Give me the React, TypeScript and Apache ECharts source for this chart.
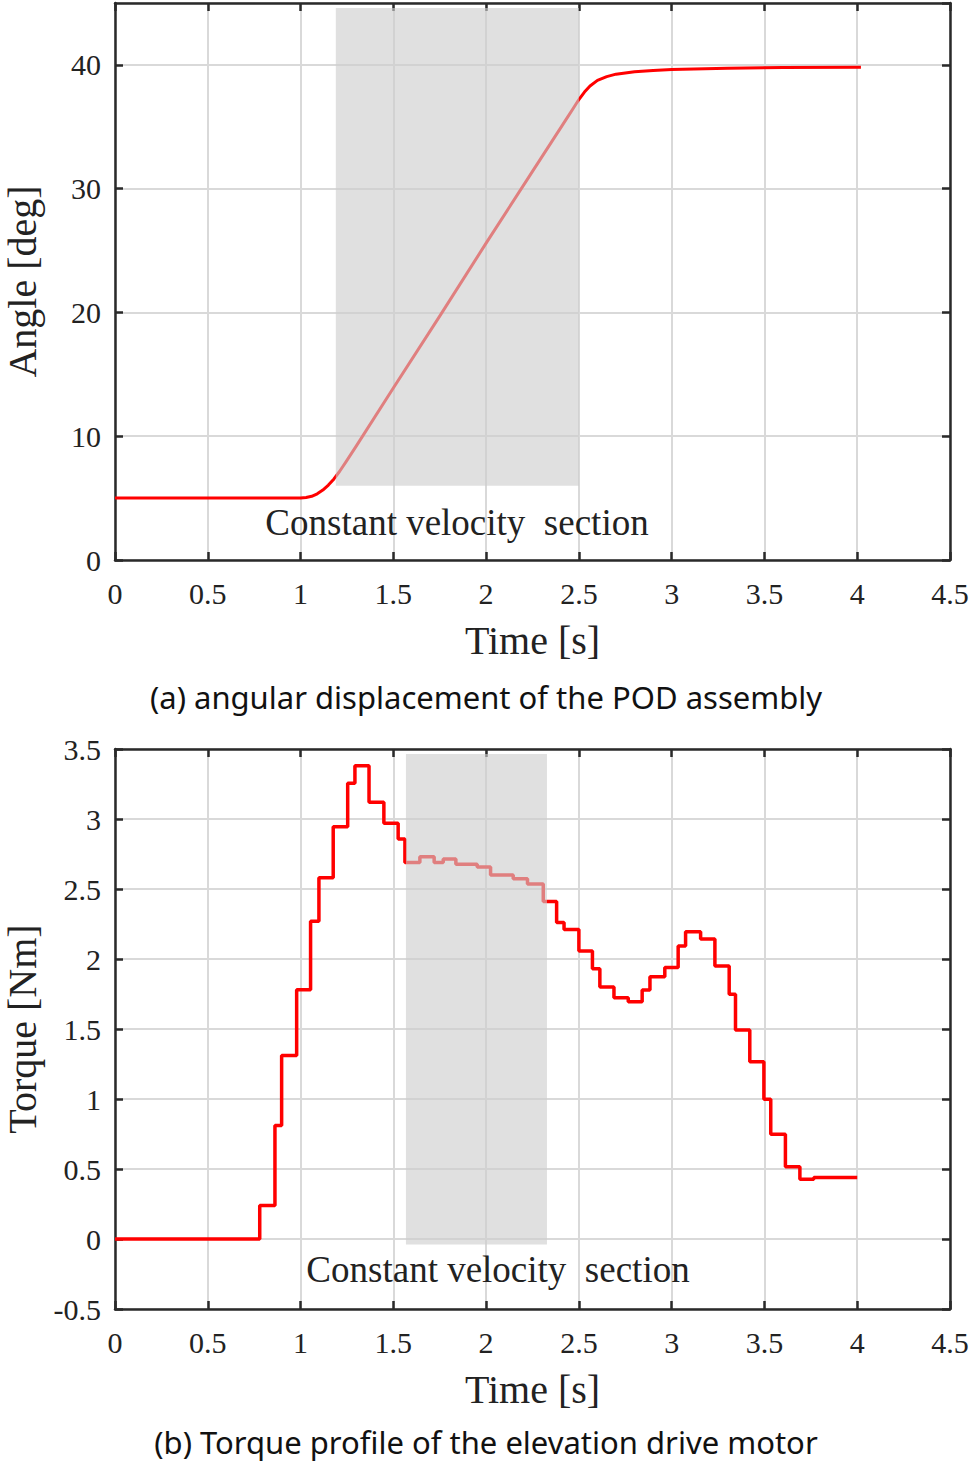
import React, { useEffect, useRef } from "react";
import * as echarts from "echarts";

// (a) angular displacement of the POD assembly [s, deg]
const angleTime = [
  0, 0.5, 1.0, 1.03, 1.06, 1.09, 1.12, 1.15, 1.18, 1.21, 1.25, 1.3, 1.5, 1.75, 2.0, 2.25, 2.44,
  2.47, 2.5, 2.53, 2.56, 2.6, 2.65, 2.7, 2.8, 2.9, 3.0, 3.3, 3.6, 4.02,
];
const angleDeg = [
  5, 5, 5, 5.05, 5.15, 5.35, 5.65, 6.05, 6.55, 7.15, 8.05, 9.2, 13.9, 19.7, 25.6, 31.4, 35.8,
  36.5, 37.2, 37.8, 38.3, 38.75, 39.05, 39.25, 39.45, 39.55, 39.62, 39.73, 39.78, 39.8,
];

// (b) torque of the elevation drive motor, held from each time stamp to the next [s, Nm]
const torqueTime = [
  0, 0.78, 0.862, 0.898, 0.979, 1.054, 1.099, 1.176, 1.254, 1.293, 1.369, 1.449, 1.526, 1.5625,
  1.643, 1.72, 1.769, 1.837, 1.952, 2.024, 2.146, 2.223, 2.308, 2.38, 2.42, 2.5, 2.573, 2.613,
  2.689, 2.766, 2.841, 2.883, 2.963, 3.035, 3.075, 3.156, 3.233, 3.31, 3.344, 3.421, 3.497,
  3.534, 3.613, 3.691, 3.766, 4.0,
];
const torqueNm = [
  0, 0.24, 0.81, 1.31, 1.78, 2.27, 2.58, 2.945, 3.255, 3.38, 3.12, 2.97, 2.857, 2.69,
  2.73, 2.69, 2.714, 2.676, 2.657, 2.6, 2.574, 2.536, 2.41, 2.26, 2.21, 2.057, 1.93, 1.8,
  1.724, 1.695, 1.779, 1.874, 1.94, 2.093, 2.195, 2.143, 1.95, 1.748, 1.493, 1.266, 0.998,
  0.748, 0.516, 0.426, 0.44, 0.44,
];

// constant velocity sections: [tStart, tEnd, low, high]
const angleBand = [1.19, 2.5, 6.0, 44.6];
const torqueBand = [1.568, 2.328, -0.04, 3.465];

const timeTicks = { min: 0, max: 4.5, interval: 0.5 };
const angleTicks = { min: 0, max: 45, interval: 10 };
const torqueTicks = { min: -0.5, max: 3.5, interval: 0.5 };

const serif = "Liberation Serif";
const sans = "Noto Sans";
const ink = "#222222";
const frame = "#2a2a2a";
const gridGray = "#d9d9d9";

const lineAxis = { show: true, onZero: false, lineStyle: { color: frame, width: 2.5 } };
const tick = { show: true, inside: true, length: 8, lineStyle: { color: frame, width: 2.5 } };
const tickLabel = { color: ink, fontFamily: serif, fontSize: 30 };

function xAxes(gridIndex: number) {
  return [
    {
      type: "value",
      gridIndex,
      ...timeTicks,
      position: "bottom",
      axisLine: lineAxis,
      axisTick: tick,
      axisLabel: { ...tickLabel, margin: 18 },
      splitLine: { show: true, lineStyle: { color: gridGray, width: 2 } },
      name: "Time [s]",
      nameLocation: "middle",
      nameGap: 60,
      nameTextStyle: { color: ink, fontFamily: serif, fontSize: 40 },
    },
    {
      type: "value",
      gridIndex,
      ...timeTicks,
      position: "top",
      axisLine: lineAxis,
      axisTick: tick,
      axisLabel: { show: false },
      splitLine: { show: false },
    },
  ];
}

function yAxes(gridIndex: number, ticks: any, name: string, gap: number, showMax: boolean) {
  return [
    {
      type: "value",
      gridIndex,
      ...ticks,
      position: "left",
      axisLine: lineAxis,
      axisTick: tick,
      axisLabel: { ...tickLabel, margin: 14, showMaxLabel: showMax },
      splitLine: { show: true, lineStyle: { color: gridGray, width: 2 } },
      name,
      nameLocation: "middle",
      nameGap: gap,
      nameRotate: 90,
      nameTextStyle: { color: ink, fontFamily: serif, fontSize: 40 },
    },
    {
      type: "value",
      gridIndex,
      ...ticks,
      position: "right",
      axisLine: lineAxis,
      axisTick: tick,
      axisLabel: { show: false },
      splitLine: { show: false },
    },
  ];
}

function bandSeries(axisIndex: number, band: number[]) {
  return {
    type: "custom",
    xAxisIndex: axisIndex,
    yAxisIndex: axisIndex,
    z: 5,
    silent: true,
    encode: { x: [0, 1], y: [2, 3] },
    data: [band],
    renderItem: (_params: any, api: any) => {
      const p0 = api.coord([api.value(0), api.value(3)]);
      const p1 = api.coord([api.value(1), api.value(2)]);
      return {
        type: "rect",
        shape: { x: p0[0], y: p0[1], width: p1[0] - p0[0], height: p1[1] - p0[1] },
        style: { fill: "rgba(205,205,205,0.62)" },
      };
    },
  };
}

export default function App() {
  const ref = useRef<HTMLDivElement>(null);

  useEffect(() => {
    if (!ref.current) return;
    const chart = echarts.init(ref.current, null, { renderer: "svg" });
    const option = {
      animation: false,
      backgroundColor: "#ffffff",
      textStyle: { fontFamily: serif },
      grid: [
        { left: 115, right: 21, top: 3, height: 557, outerBoundsMode: "none", containLabel: false },
        { left: 115, right: 21, top: 749, height: 560, outerBoundsMode: "none", containLabel: false },
      ],
      xAxis: [...xAxes(0), ...xAxes(1)],
      yAxis: [
        ...yAxes(0, angleTicks, "Angle [deg]", 73, false),
        ...yAxes(1, torqueTicks, "Torque [Nm]", 73, true),
      ],
      series: [
        {
          type: "line",
          xAxisIndex: 0,
          yAxisIndex: 0,
          z: 3,
          showSymbol: false,
          lineStyle: { color: "#ff0000", width: 3, join: "round" },
          data: angleTime.map((t, i) => [t, angleDeg[i]]),
        },
        bandSeries(0, angleBand),
        {
          type: "line",
          xAxisIndex: 2,
          yAxisIndex: 2,
          z: 3,
          step: "end",
          showSymbol: false,
          lineStyle: { color: "#ff0000", width: 3.5 },
          data: torqueTime.map((t, i) => [t, torqueNm[i]]),
        },
        bandSeries(2, torqueBand),
      ],
      graphic: [
        {
          type: "text",
          x: 457,
          y: 522,
          z: 10,
          style: { text: "Constant velocity\u00a0 section", font: `37px "${serif}"`, fill: ink, align: "center", verticalAlign: "middle" },
        },
        {
          type: "text",
          x: 498,
          y: 1269,
          z: 10,
          style: { text: "Constant velocity\u00a0 section", font: `37px "${serif}"`, fill: ink, align: "center", verticalAlign: "middle" },
        },
        {
          type: "text",
          x: 486,
          y: 697,
          style: { text: "(a) angular displacement of the POD assembly", font: `31px "${sans}"`, fill: "#111111", align: "center", verticalAlign: "middle" },
        },
        {
          type: "text",
          x: 486,
          y: 1442,
          style: { text: "(b) Torque profile of the elevation drive motor", font: `31px "${sans}"`, fill: "#111111", align: "center", verticalAlign: "middle" },
        },
      ],
    };
    chart.setOption(option as any);
    return () => chart.dispose();
  }, []);

  return (
    <div
      ref={ref}
      style={{ position: "absolute", left: 0, top: 0, width: 971, height: 1464, background: "#ffffff" }}
    />
  );
}
